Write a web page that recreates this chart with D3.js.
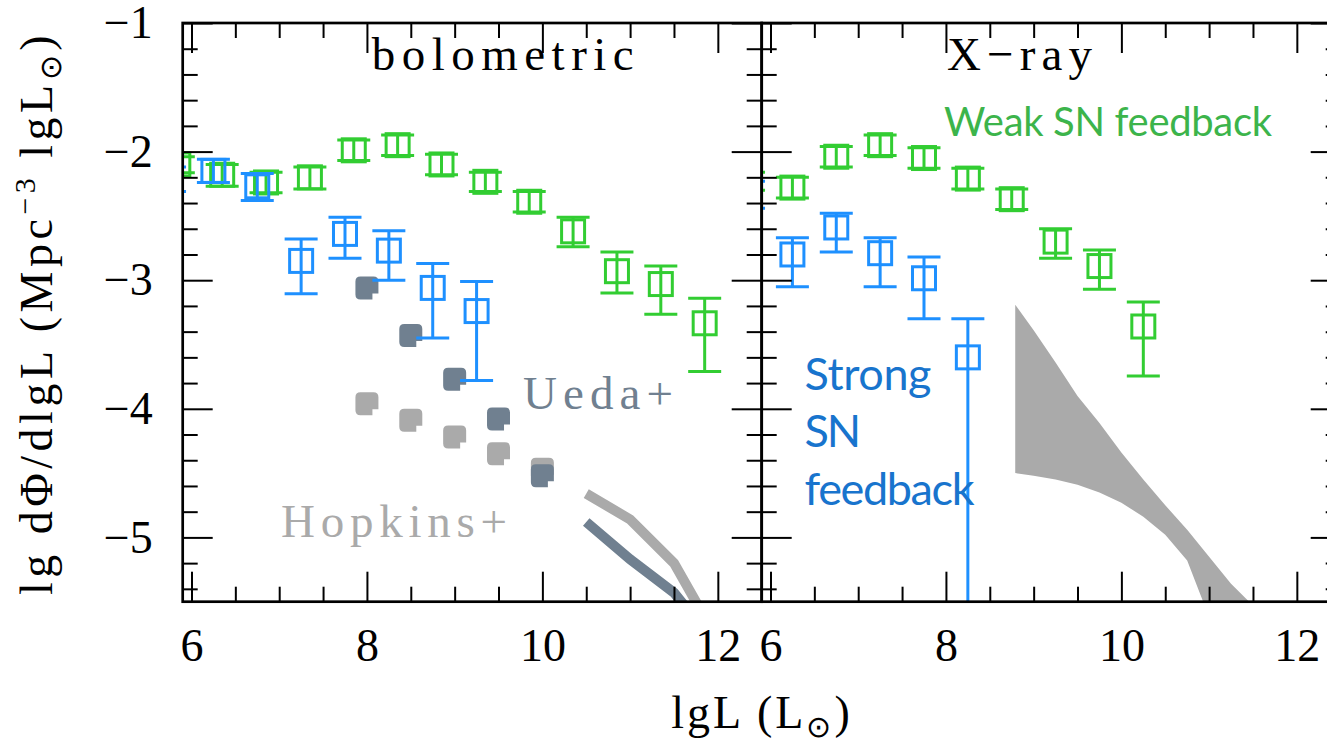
<!DOCTYPE html>
<html>
<head>
<meta charset="utf-8">
<script src="https://cdn.jsdelivr.net/npm/d3@7"></script>
<style>
  body { margin: 0; background: #fff; }
  svg { display: block; }
</style>
</head>
<body>
<svg id="chart" width="1327" height="746"></svg>
<script>
// ---------- bolometric luminosity function ----------
// strong SN feedback model
const bolStrongX  = [5.75, 6.25, 6.75, 7.25, 7.75, 8.25, 8.75, 9.25];
const bolStrongY  = [-2.21, -2.15, -2.27, -2.85, -2.64, -2.77, -3.06, -3.24];
const bolStrongHi = [-2.12, -2.06, -2.17, -2.68, -2.51, -2.615, -2.87, -3.01];
const bolStrongLo = [-2.31, -2.24, -2.38, -3.105, -2.83, -3.00, -3.45, -3.78];
// weak SN feedback model
const bolWeakX  = [5.85, 6.35, 6.85, 7.35, 7.85, 8.35, 8.85, 9.35, 9.85, 10.35, 10.85, 11.35, 11.85];
const bolWeakY  = [-2.10, -2.18, -2.24, -2.20, -1.99, -1.95, -2.10, -2.235, -2.39, -2.62, -2.93, -3.03, -3.335];
const bolWeakHi = [-2.04, -2.10, -2.16, -2.12, -1.91, -1.87, -2.02, -2.16, -2.31, -2.51, -2.78, -2.89, -3.14];
const bolWeakLo = [-2.165, -2.27, -2.32, -2.29, -2.07, -2.03, -2.18, -2.31, -2.47, -2.74, -3.10, -3.265, -3.71];
// observed estimates
const uedaX = [8.0, 8.5, 9.0, 9.5, 10.0];
const uedaY = [-3.06, -3.43, -3.77, -4.08, -4.52];
const hopkinsX = [8.0, 8.5, 9.0, 9.5, 10.0];
const hopkinsY = [-3.96, -4.09, -4.22, -4.35, -4.47];
const uedaLineX = [10.5, 11.0, 11.5, 12.0];
const uedaLineY = [-4.88, -5.17, -5.43, -5.85];
const hopkinsLineX = [10.5, 11.0, 11.5, 12.0];
const hopkinsLineY = [-4.66, -4.86, -5.20, -5.80];

// ---------- X-ray luminosity function ----------
const xrayStrongX  = [5.75, 6.25, 6.75, 7.25, 7.75, 8.25];
const xrayStrongY  = [-2.34, -2.80, -2.59, -2.79, -2.985, -3.60];
const xrayStrongHi = [-2.23, -2.67, -2.48, -2.67, -2.82, -3.30];
const xrayStrongLo = [-2.44, -3.05, -2.78, -3.05, -3.30, -6.00];
const xrayWeakX  = [5.75, 6.25, 6.75, 7.25, 7.75, 8.25, 8.75, 9.25, 9.75, 10.25];
const xrayWeakY  = [-2.23, -2.28, -2.04, -1.95, -2.05, -2.21, -2.37, -2.70, -2.89, -3.36];
const xrayWeakHi = [-2.16, -2.20, -1.96, -1.87, -1.97, -2.13, -2.29, -2.60, -2.765, -3.17];
const xrayWeakLo = [-2.30, -2.36, -2.12, -2.03, -2.13, -2.29, -2.45, -2.83, -3.07, -3.745];
// observed X-ray band
const bandX     = [8.79, 9.0, 9.25, 9.5, 9.75, 10.0, 10.25, 10.5, 10.75, 11.0, 11.25, 11.5];
const bandUpper = [-3.19, -3.39, -3.64, -3.90, -4.11, -4.34, -4.55, -4.75, -4.94, -5.15, -5.36, -5.53];
const bandLower = [-4.50, -4.52, -4.55, -4.59, -4.65, -4.73, -4.84, -4.98, -5.18, -5.62, -5.90, -6.20];

// ---------- axes ----------
const xDomain = [5.9, 12.5];
const yDomain = [-5.5, -1];
const xMajor = [6, 8, 10, 12];
const xMinor = d3.range(12, 25).map(d => d / 2).filter(d => !xMajor.includes(d));
const yMajor = [-5, -4, -3, -2, -1];
const yMinor = d3.range(-27, -5).filter(d => d % 5 !== 0).map(d => d / 5);
const panelTitles = ["bolometric", "X\u2212ray"];

// ---------- colours & fonts ----------
const GREEN = "#32cd32", BLUE = "#1e90ff";
const SLATE = "#708090", LIGHT = "#aaaaaa";
const SERIF = "'Liberation Serif', 'Times New Roman', serif";
const SANS = "Lato, 'Open Sans', sans-serif";

const svg = d3.select("#chart");
const plotTop = 23, plotBottom = 601.7, panelWidth = 579;
const panelLefts = [182.7, 761.7];

const y = d3.scaleLinear().domain(yDomain).range([plotBottom, plotTop]);

function makeX(i) {
  return d3.scaleLinear().domain(xDomain).range([panelLefts[i], panelLefts[i] + panelWidth]);
}

// clip regions for each panel
const defs = svg.append("defs");
panelLefts.forEach((l, i) => {
  defs.append("clipPath").attr("id", "clip" + i)
    .append("rect").attr("x", l).attr("y", plotTop)
    .attr("width", panelWidth).attr("height", plotBottom - plotTop);
});

function errorPoints(g, x, xs, ys, his, los, color) {
  const pts = xs.map((d, i) => ({ x: d, y: ys[i], hi: his[i], lo: los[i] }));
  const cap = 16.5, half = 11.5;
  const grp = g.append("g").attr("stroke", color).attr("stroke-width", 3).attr("fill", "none");
  grp.selectAll("path").data(pts).join("path")
    .attr("d", d => {
      const cx = x(d.x), yh = y(d.hi), yl = y(d.lo);
      return `M${cx},${yl}V${yh}M${cx - cap},${yh}h${2 * cap}M${cx - cap},${yl}h${2 * cap}`;
    });
  grp.selectAll("rect").data(pts).join("rect")
    .attr("x", d => x(d.x) - half).attr("y", d => y(d.y) - half)
    .attr("width", 2 * half).attr("height", 2 * half);
}

// filled square with rounded corners and a notch at the lower right
function notchedSquare(cx, cy) {
  const h = 11.5, r = 5, n = 6;
  const x0 = cx - h, x1 = cx + h, y0 = cy - h, y1 = cy + h;
  return `M${x0 + r},${y0}H${x1 - r}Q${x1},${y0} ${x1},${y0 + r}V${y1 - n}H${x1 - n}V${y1}` +
         `H${x0 + r}Q${x0},${y1} ${x0},${y1 - r}V${y0 + r}Q${x0},${y0} ${x0 + r},${y0}Z`;
}

function filledPoints(g, x, xs, ys, color) {
  g.append("g").attr("fill", color)
    .selectAll("path").data(xs.map((d, i) => [d, ys[i]])).join("path")
    .attr("d", d => notchedSquare(x(d[0]), y(d[1])));
}

function thickLine(g, x, xs, ys, color) {
  const line = d3.line().x(d => x(d[0])).y(d => y(d[1]));
  g.append("path").datum(xs.map((d, i) => [d, ys[i]]))
    .attr("d", line).attr("fill", "none").attr("stroke", color)
    .attr("stroke-width", 10).attr("stroke-linejoin", "miter");
}

function drawAxes(i, x) {
  const l = panelLefts[i], r = l + panelWidth;
  const g = svg.append("g").attr("class", "axes");
  const style = sel => {
    sel.select(".domain").remove();
    sel.selectAll("line").attr("stroke", "#000").attr("stroke-width", 2);
  };
  // bottom
  g.append("g").attr("transform", `translate(0,${plotBottom})`)
    .call(d3.axisBottom(x).tickValues(xMinor).tickSize(-15).tickFormat(""))
    .call(style);
  const xb = g.append("g").attr("transform", `translate(0,${plotBottom})`)
    .call(d3.axisBottom(x).tickValues(xMajor).tickSize(-30).tickFormat(d3.format("d")))
    .call(style);
  xb.selectAll("text").attr("y", 59.3).attr("dy", null)
    .attr("font-family", SERIF).attr("font-size", 46).attr("fill", "#000");
  // top
  g.append("g").attr("transform", `translate(0,${plotTop})`)
    .call(d3.axisTop(x).tickValues(xMinor).tickSize(-15).tickFormat("")).call(style);
  g.append("g").attr("transform", `translate(0,${plotTop})`)
    .call(d3.axisTop(x).tickValues(xMajor).tickSize(-30).tickFormat("")).call(style);
  // left
  g.append("g").attr("transform", `translate(${l},0)`)
    .call(d3.axisLeft(y).tickValues(yMinor).tickSize(-15).tickFormat("")).call(style);
  const yl = g.append("g").attr("transform", `translate(${l},0)`)
    .call(d3.axisLeft(y).tickValues(yMajor).tickSize(-30).tickPadding(30)
      .tickFormat(i === 0 ? d3.format("d") : ""))
    .call(style);
  yl.selectAll("text").attr("font-family", SERIF).attr("font-size", 46).attr("fill", "#000");
  // right
  g.append("g").attr("transform", `translate(${r},0)`)
    .call(d3.axisRight(y).tickValues(yMinor).tickSize(-15).tickFormat("")).call(style);
  g.append("g").attr("transform", `translate(${r},0)`)
    .call(d3.axisRight(y).tickValues(yMajor).tickSize(-30).tickFormat("")).call(style);
  // frame
  g.append("rect").attr("x", l).attr("y", plotTop)
    .attr("width", panelWidth).attr("height", plotBottom - plotTop)
    .attr("fill", "none").attr("stroke", "#000").attr("stroke-width", 2.7);
}

// ---------- left panel: bolometric ----------
const x0 = makeX(0);
const p0 = svg.append("g").attr("clip-path", "url(#clip0)");
thickLine(p0, x0, hopkinsLineX, hopkinsLineY, LIGHT);
thickLine(p0, x0, uedaLineX, uedaLineY, SLATE);
filledPoints(p0, x0, hopkinsX, hopkinsY, LIGHT);
filledPoints(p0, x0, uedaX, uedaY, SLATE);
errorPoints(p0, x0, bolWeakX, bolWeakY, bolWeakHi, bolWeakLo, GREEN);
errorPoints(p0, x0, bolStrongX, bolStrongY, bolStrongHi, bolStrongLo, BLUE);

// ---------- right panel: X-ray ----------
const x1 = makeX(1);
const p1 = svg.append("g").attr("clip-path", "url(#clip1)");
const band = d3.area()
  .x((d, i) => x1(bandX[i]))
  .y0((d, i) => y(bandLower[i]))
  .y1((d, i) => y(bandUpper[i]));
p1.append("path").datum(bandX).attr("d", band).attr("fill", LIGHT);
errorPoints(p1, x1, xrayWeakX, xrayWeakY, xrayWeakHi, xrayWeakLo, GREEN);
errorPoints(p1, x1, xrayStrongX, xrayStrongY, xrayStrongHi, xrayStrongLo, BLUE);

drawAxes(0, x0);
drawAxes(1, x1);

// ---------- annotations ----------
const serifText = (txt, x, yy, len, color) =>
  svg.append("text").attr("x", x).attr("y", yy).text(txt)
    .attr("font-family", SERIF).attr("font-size", 47).attr("fill", color || "#000")
    .attr("textLength", len).attr("lengthAdjust", "spacing");

serifText(panelTitles[0], 371.7, 70, 262);
serifText(panelTitles[1], 947, 70, 145);
serifText("Ueda+", 523, 409, 150, SLATE);
serifText("Hopkins+", 281, 537, 226, LIGHT);

svg.append("text").attr("x", 944).attr("y", 136).text("Weak SN feedback")
  .attr("font-family", SANS).attr("font-size", 40).attr("fill", "#3cb44b")
  .attr("textLength", 328).attr("lengthAdjust", "spacing");

[["Strong", 390, 127], ["SN", 446.7, 56.5], ["feedback", 505, 170]].forEach(([t, yy, len]) => {
  svg.append("text").attr("x", 804.5).attr("y", yy).text(t)
    .attr("font-family", SANS).attr("font-size", 45).attr("fill", "#1874cd")
    .attr("textLength", len).attr("lengthAdjust", "spacing");
});

// axis titles
const yTitle = svg.append("text")
  .attr("transform", "translate(52,313) rotate(-90)")
  .attr("text-anchor", "middle")
  .attr("font-family", SERIF).attr("font-size", 46).attr("letter-spacing", 4.5);
yTitle.append("tspan").text("lg d\u03A6/dlgL (Mpc");
yTitle.append("tspan").attr("font-size", 30).attr("dy", -17).text("\u22123");
yTitle.append("tspan").attr("dy", 17).text(" lgL");
yTitle.append("tspan").attr("font-size", 30).attr("dy", 9).text("\u2299");
yTitle.append("tspan").attr("dy", -9).text(")");

const xTitle = svg.append("text")
  .attr("x", 762).attr("y", 728).attr("text-anchor", "middle")
  .attr("font-family", SERIF).attr("font-size", 46).attr("letter-spacing", 3);
xTitle.append("tspan").text("lgL (L");
xTitle.append("tspan").attr("font-size", 30).attr("dy", 9).text("\u2299");
xTitle.append("tspan").attr("dy", -9).text(")");
</script>
</body>
</html>
